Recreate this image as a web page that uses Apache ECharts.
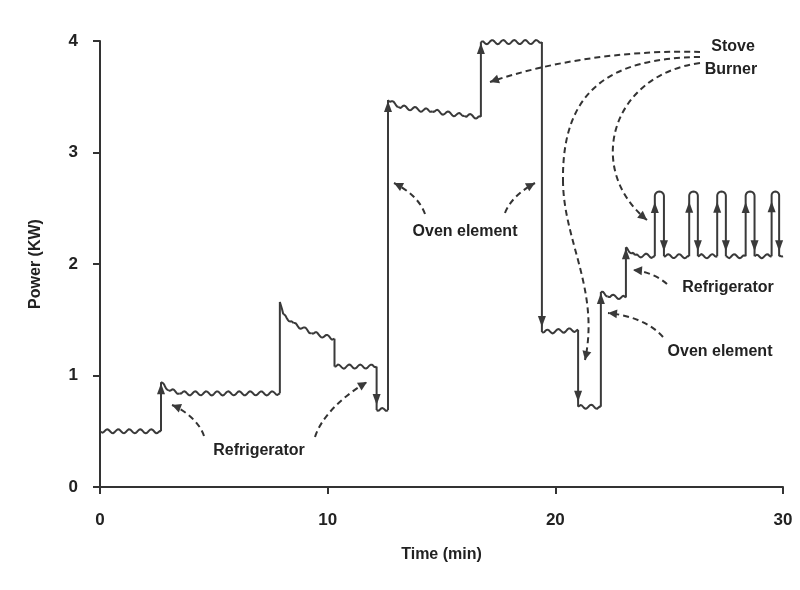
<!DOCTYPE html>
<html>
<head>
<meta charset="utf-8">
<script src="https://cdn.jsdelivr.net/npm/echarts@6/dist/echarts.min.js"></script>
<style>
  html, body { margin: 0; padding: 0; background: #fff; }
  #chart { width: 800px; height: 590px; }
</style>
</head>
<body>
<div id="chart"></div>
<script>
// level runs of the power trace: [time (min), power (kW)] vertices
const flatRuns = [
  [[0, 0.50], [2.68, 0.50]],
  [[2.68, 0.94], [3.0, 0.87], [3.5, 0.84], [7.9, 0.84]],
  [[7.9, 1.66], [8.05, 1.55], [8.5, 1.47], [9.3, 1.38], [10.3, 1.33]],
  [[10.3, 1.08], [12.15, 1.08]],
  [[12.15, 0.69], [12.65, 0.69]],
  [[12.65, 3.47], [13.1, 3.41], [14.6, 3.37], [16.0, 3.33], [16.73, 3.32]],
  [[16.73, 3.99], [19.41, 3.99]],
  [[19.41, 1.39], [21.0, 1.41]],
  [[21.0, 0.72], [22.0, 0.72]],
  [[22.0, 1.75], [22.3, 1.71], [23.1, 1.70]],
  [[23.1, 2.15], [23.5, 2.08], [24.37, 2.07]],
  [[24.77, 2.07], [25.88, 2.07]],
  [[26.26, 2.07], [27.11, 2.07]],
  [[27.49, 2.07], [28.36, 2.07]],
  [[28.75, 2.07], [29.50, 2.07]],
  [[29.83, 2.07], [30, 2.07]]
];
// vertical steps: [time, from, to, arrow]
const steps = [
  [2.68, 0.50, 0.94, 1],
  [7.9, 0.84, 1.66, 0],
  [10.3, 1.33, 1.08, 0],
  [12.15, 1.08, 0.69, 1],
  [12.65, 0.69, 3.47, 1],
  [16.73, 3.32, 3.99, 1],
  [19.41, 3.99, 1.39, 1],
  [21.0, 1.41, 0.72, 1],
  [22.0, 0.72, 1.75, 1],
  [23.1, 1.70, 2.15, 1]
];
// stove burner cycling
const burnerOn = [24.37, 25.88, 27.11, 28.36, 29.50];
const burnerOff = [24.77, 26.26, 27.49, 28.75, 29.83];
const burnerBase = 2.07;
const burnerPeak = 2.65;

const xTicks = [0, 10, 20, 30];
const yTicks = [0, 1, 2, 3, 4];

const INK = '#3a3a3a';
const FONT = 'Liberation Sans, Arial, sans-serif';

const pieces = [];
flatRuns.forEach(run => {
  for (let i = 0; i < run.length - 1; i++) {
    pieces.push([run[i][0], run[i][1], run[i + 1][0], run[i + 1][1]]);
  }
});

function arrowHead(tip, dx, dy, len, half) {
  // dx,dy = unit direction the arrow points to
  const bx = tip[0] - dx * len, by = tip[1] - dy * len;
  return {
    type: 'polygon',
    shape: { points: [tip, [bx - dy * half, by + dx * half], [bx + dy * half, by - dx * half]] },
    style: { fill: INK }
  };
}

function renderWiggle(params, api) {
  const p0 = api.coord([api.value(0), api.value(1)]);
  const p1 = api.coord([api.value(2), api.value(3)]);
  const amp = 2, period = 11;
  const len = p1[0] - p0[0];
  const n = Math.max(2, Math.ceil(len / 1.2));
  const pts = [];
  for (let i = 0; i <= n; i++) {
    const f = i / n;
    const x = p0[0] + len * f;
    const y = p0[1] + (p1[1] - p0[1]) * f;
    const taper = Math.min(1, (x - p0[0]) / 3, (p1[0] - x) / 3);
    pts.push([x, y + amp * taper * Math.sin(2 * Math.PI * x / period)]);
  }
  return { type: 'polyline', shape: { points: pts }, style: { stroke: INK, lineWidth: 2, fill: null } };
}

function renderStep(params, api) {
  const a = api.coord([api.value(0), api.value(1)]);
  const b = api.coord([api.value(0), api.value(2)]);
  const children = [{
    type: 'line', shape: { x1: a[0], y1: a[1], x2: b[0], y2: b[1] },
    style: { stroke: INK, lineWidth: 2 }
  }];
  if (api.value(3)) {
    const up = b[1] < a[1];
    const tip = up ? [b[0], b[1] + 1] : [b[0], b[1] - 5];
    children.push(arrowHead(tip, 0, up ? -1 : 1, 11, 4));
  }
  return { type: 'group', children: children };
}

function renderPulse(params, api) {
  const l = api.coord([api.value(0), burnerBase]);
  const r = api.coord([api.value(1), burnerBase]);
  const top = api.coord([api.value(0), burnerPeak])[1];
  const rad = (r[0] - l[0]) / 2;
  const cx = l[0] + rad, cy = top + rad;
  const pts = [[l[0], l[1]], [l[0], cy]];
  for (let i = 0; i <= 12; i++) {
    const ang = Math.PI - Math.PI * i / 12;
    pts.push([cx + rad * Math.cos(ang), cy - rad * Math.sin(ang)]);
  }
  pts.push([r[0], r[1]]);
  return {
    type: 'group',
    children: [
      { type: 'polyline', shape: { points: pts }, style: { stroke: INK, lineWidth: 2, fill: null } },
      arrowHead([l[0], top + rad + 6], 0, -1, 11, 4),
      arrowHead([r[0], l[1] - 5], 0, 1, 11, 4)
    ]
  };
}

const chart = echarts.init(document.getElementById('chart'));

const labelStyle = { fontFamily: FONT, fontWeight: 'bold', fontSize: 17, color: '#222' };

chart.setOption({
  backgroundColor: '#fff',
  animation: false,
  grid: { left: 100, right: 17, top: 41, bottom: 103 },
  xAxis: {
    type: 'value', min: 0, max: 30, interval: 10,
    name: 'Time (min)', nameLocation: 'middle', nameGap: 60,
    nameTextStyle: { fontFamily: FONT, fontWeight: 'bold', fontSize: 16, color: '#222' },
    axisLine: { show: true, lineStyle: { color: '#333', width: 2 } },
    axisTick: { show: true, length: 7, lineStyle: { color: '#333', width: 2 } },
    axisLabel: Object.assign({ margin: 25, formatter: v => xTicks.indexOf(v) >= 0 ? String(v) : '' }, labelStyle),
    splitLine: { show: false }
  },
  yAxis: {
    type: 'value', min: 0, max: 4, interval: 1,
    name: 'Power (KW)', nameLocation: 'middle', nameGap: 56,
    nameTextStyle: { fontFamily: FONT, fontWeight: 'bold', fontSize: 16, color: '#222' },
    axisLine: { show: true, lineStyle: { color: '#333', width: 2 } },
    axisTick: { show: true, length: 7, lineStyle: { color: '#333', width: 2 } },
    axisLabel: Object.assign({ margin: 22, formatter: v => yTicks.indexOf(v) >= 0 ? String(v) : '' }, labelStyle),
    splitLine: { show: false }
  },
  series: [
    {
      type: 'custom', name: 'levels', clip: false, silent: true,
      renderItem: renderWiggle,
      encode: { x: [0, 2], y: [1, 3] },
      data: pieces
    },
    {
      type: 'custom', name: 'steps', clip: false, silent: true,
      renderItem: renderStep,
      encode: { x: 0, y: [1, 2] },
      data: steps
    },
    {
      type: 'custom', name: 'burner', clip: false, silent: true,
      renderItem: renderPulse,
      encode: { x: [0, 1] },
      data: burnerOn.map((t, i) => [t, burnerOff[i]])
    }
  ]
});

// annotation callouts (pixel layout)
function dashedArrow(p0, c1, c2, p3) {
  const dx = p3[0] - c2[0], dy = p3[1] - c2[1];
  const d = Math.hypot(dx, dy);
  return [
    {
      type: 'bezierCurve', silent: true,
      shape: { x1: p0[0], y1: p0[1], cpx1: c1[0], cpy1: c1[1], cpx2: c2[0], cpy2: c2[1], x2: p3[0], y2: p3[1] },
      style: { stroke: '#333', lineWidth: 2, lineDash: [6, 4], fill: null }
    },
    arrowHead(p3, dx / d, dy / d, 9, 4.5)
  ];
}

const callouts = [
  [[204, 436], [200, 423], [185, 410], [172, 405]],
  [[315, 437], [322, 415], [345, 395], [367, 382]],
  [[425, 214], [420, 200], [408, 190], [394, 183]],
  [[505, 213], [510, 200], [522, 190], [535, 183]],
  [[700, 52], [640, 50], [560, 58], [490, 82]],
  [[700, 57], [610, 58], [562, 90], [563, 180]],
  [[563, 180], [563, 240], [600, 290], [585, 360]],
  [[700, 63], [610, 75], [585, 170], [647, 220]],
  [[667, 284], [658, 276], [645, 271], [633, 270]],
  [[663, 337], [650, 322], [628, 315], [608, 313]]
];
const notes = [
  ['Refrigerator', 259, 451],
  ['Oven element', 465, 232],
  ['Stove', 733, 47],
  ['Burner', 731, 70],
  ['Refrigerator', 728, 288],
  ['Oven element', 720, 352]
];

const elements = [];
callouts.forEach((c, i) => {
  const parts = dashedArrow(c[0], c[1], c[2], c[3]);
  elements.push(parts[0]);
  if (i !== 5) elements.push(parts[1]); // first half of the S-curve has no head
});
notes.forEach(n => {
  elements.push({
    type: 'text', silent: true, x: n[1], y: n[2],
    style: { text: n[0], fontFamily: FONT, fontWeight: 'bold', fontSize: 16, fill: '#222', align: 'center', verticalAlign: 'middle' }
  });
});
chart.setOption({ graphic: { elements: elements } });
</script>
</body>
</html>
